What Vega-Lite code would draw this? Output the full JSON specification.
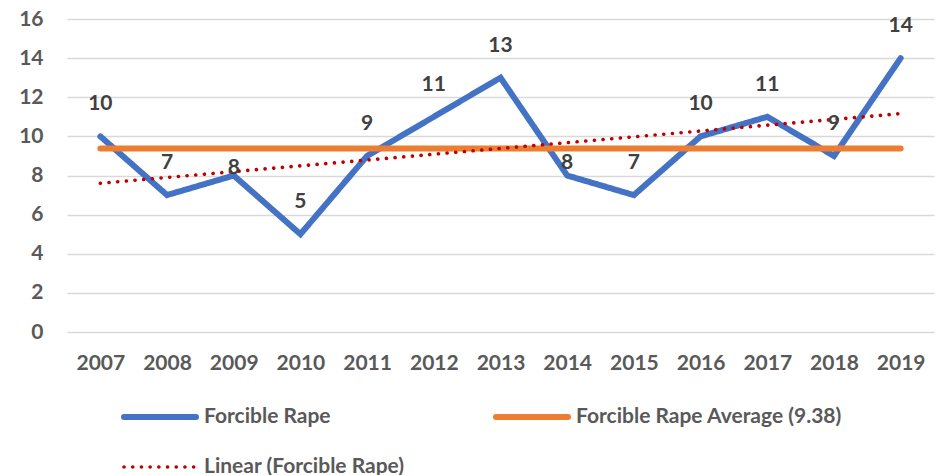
{
  "$schema": "https://vega.github.io/schema/vega-lite/v6.json",
  "width": 867,
  "height": 313,
  "autosize": "none",
  "padding": {"left": 67, "top": 19, "right": 16, "bottom": 143},
  "background": "white",
  "config": {
    "view": {"stroke": null},
    "font": "Lato",
    "legend": {"padding": 0}
  },
  "data": {
    "values": [
      {"year": "2007", "series": "Forcible Rape", "value": 10},
      {"year": "2008", "series": "Forcible Rape", "value": 7},
      {"year": "2009", "series": "Forcible Rape", "value": 8},
      {"year": "2010", "series": "Forcible Rape", "value": 5},
      {"year": "2011", "series": "Forcible Rape", "value": 9},
      {"year": "2012", "series": "Forcible Rape", "value": 11},
      {"year": "2013", "series": "Forcible Rape", "value": 13},
      {"year": "2014", "series": "Forcible Rape", "value": 8},
      {"year": "2015", "series": "Forcible Rape", "value": 7},
      {"year": "2016", "series": "Forcible Rape", "value": 10},
      {"year": "2017", "series": "Forcible Rape", "value": 11},
      {"year": "2018", "series": "Forcible Rape", "value": 9},
      {"year": "2019", "series": "Forcible Rape", "value": 14},
      {"year": "2007", "series": "Forcible Rape Average (9.38)", "value": 9.38},
      {"year": "2008", "series": "Forcible Rape Average (9.38)", "value": 9.38},
      {"year": "2009", "series": "Forcible Rape Average (9.38)", "value": 9.38},
      {"year": "2010", "series": "Forcible Rape Average (9.38)", "value": 9.38},
      {"year": "2011", "series": "Forcible Rape Average (9.38)", "value": 9.38},
      {"year": "2012", "series": "Forcible Rape Average (9.38)", "value": 9.38},
      {"year": "2013", "series": "Forcible Rape Average (9.38)", "value": 9.38},
      {"year": "2014", "series": "Forcible Rape Average (9.38)", "value": 9.38},
      {"year": "2015", "series": "Forcible Rape Average (9.38)", "value": 9.38},
      {"year": "2016", "series": "Forcible Rape Average (9.38)", "value": 9.38},
      {"year": "2017", "series": "Forcible Rape Average (9.38)", "value": 9.38},
      {"year": "2018", "series": "Forcible Rape Average (9.38)", "value": 9.38},
      {"year": "2019", "series": "Forcible Rape Average (9.38)", "value": 9.38},
      {"year": "2007", "series": "Linear (Forcible Rape)", "value": 7.604},
      {"year": "2008", "series": "Linear (Forcible Rape)", "value": 7.901},
      {"year": "2009", "series": "Linear (Forcible Rape)", "value": 8.198},
      {"year": "2010", "series": "Linear (Forcible Rape)", "value": 8.495},
      {"year": "2011", "series": "Linear (Forcible Rape)", "value": 8.791},
      {"year": "2012", "series": "Linear (Forcible Rape)", "value": 9.088},
      {"year": "2013", "series": "Linear (Forcible Rape)", "value": 9.385},
      {"year": "2014", "series": "Linear (Forcible Rape)", "value": 9.681},
      {"year": "2015", "series": "Linear (Forcible Rape)", "value": 9.978},
      {"year": "2016", "series": "Linear (Forcible Rape)", "value": 10.275},
      {"year": "2017", "series": "Linear (Forcible Rape)", "value": 10.571},
      {"year": "2018", "series": "Linear (Forcible Rape)", "value": 10.868},
      {"year": "2019", "series": "Linear (Forcible Rape)", "value": 11.165}
    ]
  },
  "encoding": {
    "x": {
      "field": "year",
      "type": "ordinal",
      "title": null,
      "axis": {
        "labelAngle": 0,
        "labelFont": "Lato",
        "labelFontSize": 21,
        "labelFontWeight": "bold",
        "labelColor": "#595959",
        "labelPadding": 20,
        "domain": false,
        "ticks": false,
        "grid": false
      }
    },
    "y": {
      "field": "value",
      "type": "quantitative",
      "title": null,
      "scale": {"domain": [0, 16], "nice": false, "zero": true},
      "axis": {
        "values": [0, 2, 4, 6, 8, 10, 12, 14, 16],
        "labelFont": "Lato",
        "labelFontSize": 21,
        "labelFontWeight": "bold",
        "labelColor": "#595959",
        "labelPadding": 24,
        "domain": false,
        "ticks": false,
        "grid": true,
        "gridColor": "#d9d9d9",
        "gridWidth": 1.5
      }
    }
  },
  "layer": [
    {
      "mark": {"type": "line", "strokeCap": "round", "strokeJoin": "miter"},
      "encoding": {
        "color": {
          "field": "series",
          "type": "nominal",
          "title": null,
          "scale": {
            "domain": ["Forcible Rape", "Forcible Rape Average (9.38)", "Linear (Forcible Rape)"],
            "range": ["#4472C4", "#ED7D31", "#C00000"]
          },
          "legend": {
            "orient": "none",
            "legendX": 54,
            "legendY": 359,
            "direction": "horizontal",
            "columns": 2,
            "columnPadding": 79,
            "rowPadding": 0,
            "symbolType": "stroke",
            "symbolSize": 5184,
            "labelFont": "Lato",
            "labelFontSize": 21,
            "labelFontWeight": "bold",
            "labelColor": "#595959",
            "labelOffset": 5,
            "labelLimit": 500,
            "title": null,
            "encode": {"symbols": {"update": {"strokeCap": {"value": "round"}}}}
          }
        },
        "strokeDash": {
          "field": "series",
          "type": "nominal",
          "title": null,
          "scale": {
            "domain": ["Forcible Rape", "Forcible Rape Average (9.38)", "Linear (Forcible Rape)"],
            "range": [[1, 0], [1, 0], [0.1, 8.6]]
          }
        },
        "strokeWidth": {
          "field": "series",
          "type": "nominal",
          "title": null,
          "scale": {
            "type": "ordinal",
            "domain": ["Forcible Rape", "Forcible Rape Average (9.38)", "Linear (Forcible Rape)"],
            "range": [6, 6, 3.6]
          }
        }
      }
    },
    {
      "transform": [{"filter": "datum.series === 'Forcible Rape' && datum.year !== '2009' && datum.year !== '2014'"}],
      "mark": {
        "type": "text",
        "dy": -32,
        "font": "Lato",
        "fontSize": 21,
        "fontWeight": "bold",
        "color": "#404040"
      },
      "encoding": {
        "text": {"field": "value", "type": "quantitative"}
      }
    },
    {
      "transform": [{"filter": "datum.series === 'Forcible Rape' && datum.year === '2009'"}],
      "mark": {
        "type": "text",
        "dy": -8,
        "font": "Lato",
        "fontSize": 21,
        "fontWeight": "bold",
        "color": "#404040"
      },
      "encoding": {
        "text": {"field": "value", "type": "quantitative"}
      }
    },
    {
      "transform": [{"filter": "datum.series === 'Forcible Rape' && datum.year === '2014'"}],
      "mark": {
        "type": "text",
        "dy": -13,
        "font": "Lato",
        "fontSize": 21,
        "fontWeight": "bold",
        "color": "#404040"
      },
      "encoding": {
        "text": {"field": "value", "type": "quantitative"}
      }
    }
  ]
}
